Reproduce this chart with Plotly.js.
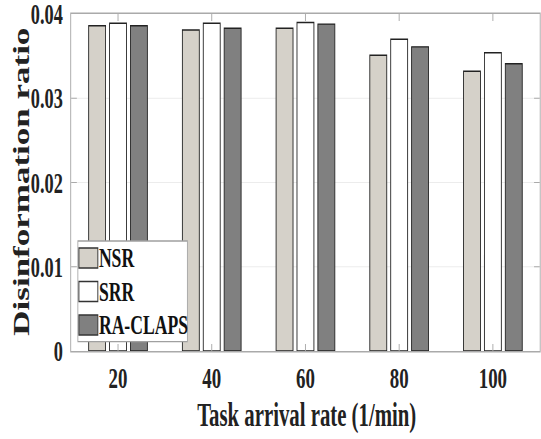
<!DOCTYPE html>
<html><head><meta charset="utf-8">
<script src="https://cdn.plot.ly/plotly-3.0.1.min.js"></script>
<style>
html,body{margin:0;padding:0;overflow:hidden;background:#fff;width:541px;height:439px}
#wrap{width:541px;height:439px;overflow:hidden}
#chart{width:859px;height:439px;transform:scaleX(0.62980);transform-origin:0 0}
</style></head><body><div id="wrap"><div id="chart"></div></div>
<script>
const categories=[20,40,60,80,100];
const nsr=[0.0386,0.0381,0.0383,0.0351,0.0332];
const srr=[0.0389,0.0389,0.0390,0.0370,0.0354];
const raclaps=[0.0386,0.0383,0.0388,0.0361,0.0341];
const seriesNames=['NSR','SRR','RA-CLAPS'];
const seriesColors=['#d5d1c9','#ffffff','#808080'];
const yTicks=[0,0.01,0.02,0.03,0.04];
const yTickText=['0','0.01','0.02','0.03','0.04'];
const xTickText=['20','40','60','80','100'];
const xTitle='Task arrival rate (1/min)';
const yTitle='Disinformation ratio';

const FONT='Liberation Serif, Times New Roman, serif';
const values=[nsr,srr,raclaps];
const traces=values.map((v,i)=>({
  type:'bar',x:categories,y:v,name:seriesNames[i],showlegend:false,
  marker:{color:seriesColors[i],line:{color:'#222',width:1.4}}
}));

// legend drawn in paper coordinates (box, swatches, labels)
const shapes=[{type:'rect',xref:'paper',yref:'paper',x0:0.0143,x1:0.248,y0:0.0276,y1:0.3264,
  fillcolor:'#ffffff',line:{color:'#a0a0a0',width:1.3},layer:'above'}];
const annotations=[];
seriesNames.forEach((name,i)=>{
  const yc=0.276-i*0.0994;
  shapes.push({type:'rect',xref:'paper',yref:'paper',x0:0.0165,x1:0.0569,y0:yc-0.0295,y1:yc+0.0295,
    fillcolor:seriesColors[i],line:{color:'#333',width:1.5},layer:'above'});
  annotations.push({xref:'paper',yref:'paper',x:0.0572,y:yc,xanchor:'left',yanchor:'middle',
    text:name,showarrow:false,borderpad:0,
    font:{family:FONT,size:28,color:'#111',weight:'bold'}});
});
annotations.push({xref:'paper',yref:'paper',x:0.5028,y:-0.192,xanchor:'center',yanchor:'middle',
  text:xTitle,showarrow:false,borderpad:0,font:{family:FONT,size:33,color:'#222',weight:'bold'}});
annotations.push({xref:'paper',yref:'paper',x:-0.1045,y:0.503,xanchor:'center',yanchor:'middle',
  text:yTitle,textangle:-90,showarrow:false,borderpad:0,font:{family:FONT,size:35,color:'#222',weight:'bold'}});

const layout={
  width:859,height:439,
  margin:{l:113,r:2,t:14,b:88},
  paper_bgcolor:'#fff',plot_bgcolor:'#fff',
  barmode:'group',bargap:0.331,bargroupgap:0.19,
  showlegend:false,
  shapes:shapes,annotations:annotations,
  xaxis:{range:[10,110],tickvals:categories,ticktext:xTickText,
    ticks:'inside',ticklen:7,tickwidth:1.5,tickcolor:'#aaa',
    showline:true,linecolor:'#aaa',linewidth:1.5,mirror:'ticks',
    showgrid:false,zeroline:false,ticklabelstandoff:0,ticklabeloverflow:'allow',
    tickfont:{family:FONT,size:30,color:'#222',weight:'bold'}},
  yaxis:{range:[0,0.04],tickvals:yTicks,ticktext:yTickText,
    ticks:'inside',ticklen:9,tickwidth:1.2,tickcolor:'#aaa',
    showline:true,linecolor:'#aaa',linewidth:1.5,mirror:'ticks',
    showgrid:true,gridcolor:'#e8e8e8',gridwidth:1,zeroline:false,
    ticklabelstandoff:6,ticklabeloverflow:'allow',
    tickfont:{family:FONT,size:29,color:'#222',weight:'bold'}}
};
Plotly.newPlot('chart',traces,layout,{displayModeBar:false,staticPlot:true});
</script></body></html>
